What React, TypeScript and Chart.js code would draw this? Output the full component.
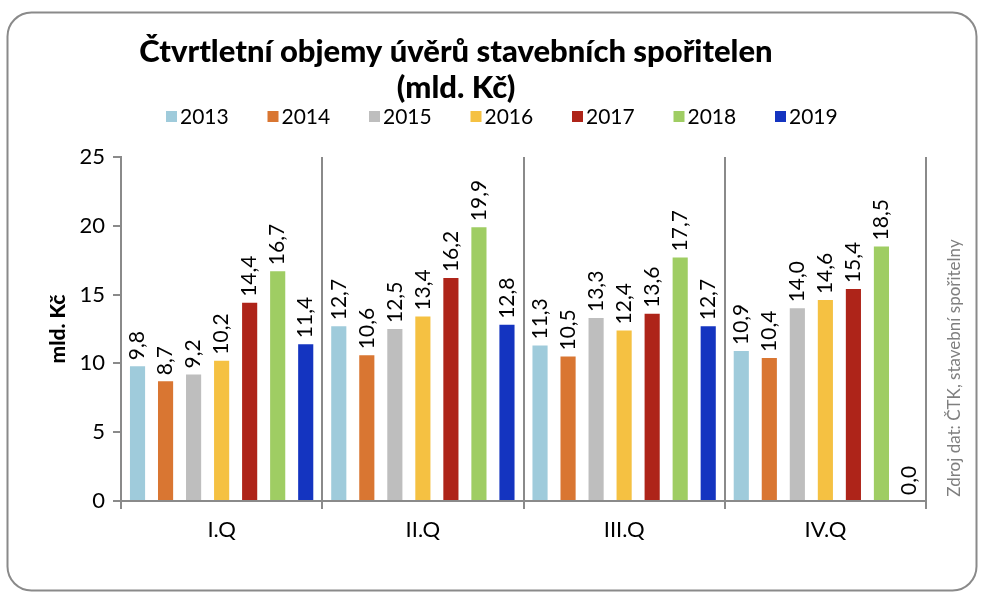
import React, { useEffect, useRef } from "react";
import { Chart, registerables } from "chart.js";

Chart.register(...registerables);

const categories = ["I.Q", "II.Q", "III.Q", "IV.Q"];
const years = ["2013", "2014", "2015", "2016", "2017", "2018", "2019"];
const v2013 = [9.8, 12.7, 11.3, 10.9];
const v2014 = [8.7, 10.6, 10.5, 10.4];
const v2015 = [9.2, 12.5, 13.3, 14.0];
const v2016 = [10.2, 13.4, 12.4, 14.6];
const v2017 = [14.4, 16.2, 13.6, 15.4];
const v2018 = [16.7, 19.9, 17.7, 18.5];
const v2019 = [11.4, 12.8, 12.7, 0.0];
const seriesValues = [v2013, v2014, v2015, v2016, v2017, v2018, v2019];
const colors = ["#9FCBDB", "#D97632", "#BEBEBE", "#F5C142", "#AE2419", "#9FCD63", "#1434C0"];
const yTicks = [0, 5, 10, 15, 20, 25];
const titleLines = ["Čtvrtletní objemy úvěrů stavebních spořitelen", "(mld. Kč)"];
const yTitle = "mld. Kč";
const sourceText = "Zdroj dat: ČTK, stavební spořitelny";

const FONT = "Lato, 'Open Sans', sans-serif";
const GRAY = "#8a8a8a";

const decorPlugin = {
  id: "decor",
  afterDraw(chart: any) {
    const ctx = chart.ctx as CanvasRenderingContext2D;
    const area = chart.chartArea;
    ctx.save();
    // rounded border
    ctx.strokeStyle = GRAY;
    ctx.lineWidth = 2;
    ctx.beginPath();
    (ctx as any).roundRect(7.5, 12.5, 969, 578, 24);
    ctx.stroke();

    // title
    ctx.fillStyle = "#000";
    ctx.textAlign = "center";
    ctx.textBaseline = "alphabetic";
    ctx.font = `900 31px ${FONT}`;
    ctx.fillText(titleLines[0], 456, 62);
    ctx.fillText(titleLines[1], 456, 98);

    // legend
    ctx.font = `21px ${FONT}`;
    ctx.textAlign = "left";
    ctx.textBaseline = "middle";
    const step = 101.5;
    const x0 = 166;
    years.forEach((y, i) => {
      const bx = x0 + i * step;
      ctx.fillStyle = colors[i];
      ctx.fillRect(bx, 111, 11, 11);
      ctx.fillStyle = "#000";
      ctx.fillText(y, bx + 14, 117);
    });

    // y title
    ctx.save();
    ctx.translate(58, (area.top + area.bottom) / 2);
    ctx.rotate(-Math.PI / 2);
    ctx.textAlign = "center";
    ctx.textBaseline = "middle";
    ctx.font = `900 21px ${FONT}`;
    ctx.fillStyle = "#000";
    ctx.fillText(yTitle, 0, 0);
    ctx.restore();

    // source
    ctx.save();
    ctx.translate(955, 368);
    ctx.rotate(-Math.PI / 2);
    ctx.textAlign = "center";
    ctx.textBaseline = "middle";
    ctx.font = `17px ${FONT}`;
    ctx.fillStyle = "#7f7f7f";
    ctx.fillText(sourceText, 0, 0);
    ctx.restore();

    ctx.restore();
  },
};

const labelPlugin = {
  id: "barLabels",
  afterDatasetsDraw(chart: any) {
    const ctx = chart.ctx as CanvasRenderingContext2D;
    ctx.save();
    ctx.font = `21px ${FONT}`;
    ctx.fillStyle = "#000";
    chart.data.datasets.forEach((ds: any, di: number) => {
      const meta = chart.getDatasetMeta(di);
      meta.data.forEach((el: any, i: number) => {
        const v = ds.data[i] as number;
        const txt = v.toFixed(1).replace(".", ",");
        ctx.save();
        ctx.translate(el.x, el.y - 6);
        ctx.rotate(-Math.PI / 2);
        ctx.textAlign = "left";
        ctx.textBaseline = "middle";
        ctx.fillText(txt, 0, 0);
        ctx.restore();
      });
    });
    ctx.restore();
  },
};

export default function App() {
  const ref = useRef<HTMLCanvasElement | null>(null);
  useEffect(() => {
    document.body.style.margin = "0";
    const canvas = ref.current!;
    const chart = new Chart(canvas, {
      type: "bar",
      data: {
        labels: categories,
        datasets: years.map((y, i) => ({
          label: y,
          data: seriesValues[i],
          backgroundColor: colors[i],
          borderWidth: 0,
          categoryPercentage: 0.975,
          barPercentage: 0.54,
        })),
      },
      options: {
        responsive: false,
        animation: false,
        devicePixelRatio: 1,
        layout: { padding: { left: 0, right: 60, top: 157, bottom: 59 } },
        plugins: {
          legend: { display: false },
          title: { display: false },
          tooltip: { enabled: false },
        },
        scales: {
          x: {
            grid: {
              offset: true,
              color: GRAY,
              lineWidth: 2,
              tickLength: 8,
              drawOnChartArea: true,
            },
            border: { color: GRAY, width: 2 },
            ticks: { color: "#000", font: { family: FONT, size: 22 }, padding: 8 },
            afterFit: (s: any) => {
              s.height = 40;
            },
          },
          y: {
            min: 0,
            max: 25,
            afterBuildTicks: (s: any) => {
              s.ticks = yTicks.map((v) => ({ value: v }));
            },
            grid: {
              drawOnChartArea: false,
              color: GRAY,
              lineWidth: 2,
              tickLength: 8,
            },
            border: { color: GRAY, width: 2 },
            ticks: { color: "#000", font: { family: FONT, size: 22 }, padding: 8 },
            afterFit: (s: any) => {
              s.width = 121;
            },
          },
        },
      },
      plugins: [labelPlugin, decorPlugin],
    });
    return () => chart.destroy();
  }, []);
  return (
    <canvas
      ref={ref}
      width={986}
      height={600}
      style={{ display: "block", width: 986, height: 600 }}
    />
  );
}
